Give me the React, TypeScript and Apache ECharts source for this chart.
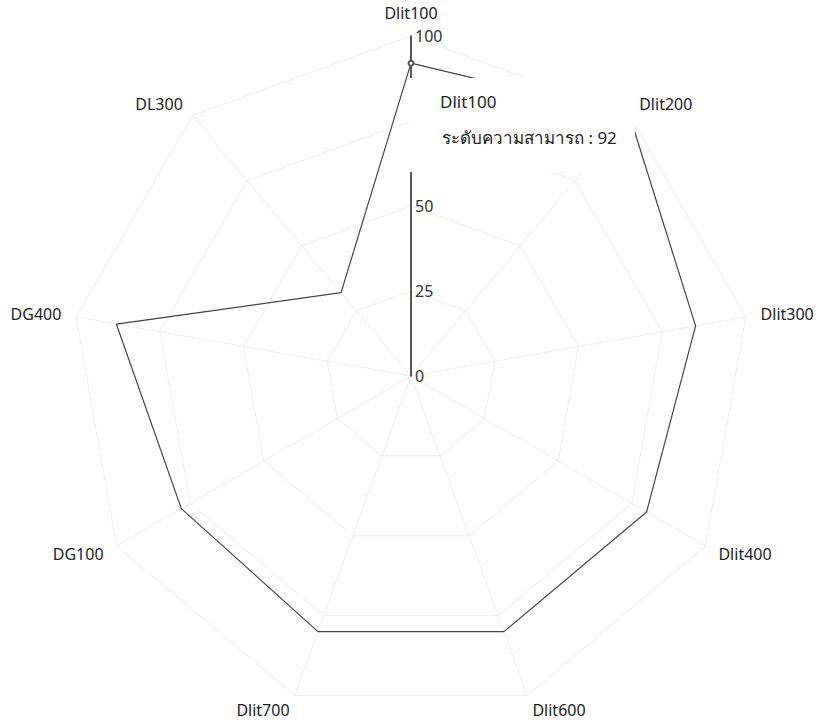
import React, { useEffect, useRef } from "react";
import * as echarts from "echarts";

// Indicators listed clockwise from the top, as in the picture
const indicatorNames = ["Dlit100", "Dlit200", "Dlit300", "Dlit400", "Dlit600", "Dlit700", "DG100", "DG400", "DL300"];
const indicatorMax = 100;
const seriesName = "ระดับความสามารถ";
const seriesValues = [92, 100, 85, 80, 80, 80, 78, 88, 32];
const tooltipTitle = "Dlit100";
const tooltipValue = 92;

// ECharts lays radar indicators counter-clockwise; reorder so they read clockwise
const cwOrder = indicatorNames.map((_, i) => (i === 0 ? 0 : indicatorNames.length - i));

export default function App() {
  const ref = useRef<HTMLDivElement>(null);
  useEffect(() => {
    if (!ref.current) return;
    const chart = echarts.init(ref.current, null, { renderer: "svg" });
    const font = "'Noto Sans', 'DejaVu Sans', sans-serif";
    const center = [411, 376];
    const radius = 340;
    chart.setOption({
      animation: false,
      backgroundColor: "#ffffff",
      textStyle: { fontFamily: font },
      radar: [
        {
          center,
          radius,
          startAngle: 90,
          shape: "polygon",
          splitNumber: 4,
          indicator: cwOrder.map((i) => ({ name: indicatorNames[i], min: 0, max: indicatorMax })),
          axisName: { color: "#222", fontSize: 16, fontFamily: font },
          nameGap: 15,
          axisLine: { lineStyle: { color: "#efefef", width: 1 } },
          splitLine: { lineStyle: { color: "#efefef", width: 1 } },
          splitArea: { show: false },
          axisLabel: { show: false },
          axisTick: { show: false },
        },
        {
          center,
          radius,
          startAngle: 90,
          shape: "polygon",
          splitNumber: 4,
          indicator: [{ name: "", min: 0, max: indicatorMax }],
          axisName: { show: false },
          axisLine: { lineStyle: { color: "#222", width: 1.5 } },
          splitLine: { show: false },
          splitArea: { show: false },
          axisTick: { show: false },
          axisLabel: { show: true, color: "#333", fontSize: 16, fontFamily: font, margin: -4, align: "left" },
        },
      ],
      series: [
        {
          type: "radar",
          radarIndex: 0,
          symbol: "none",
          lineStyle: { color: "#444", width: 1.2 },
          data: [{ name: seriesName, value: cwOrder.map((i) => seriesValues[i]) }],
        },
        {
          type: "radar",
          radarIndex: 1,
          symbol: "emptyCircle",
          symbolSize: 5,
          itemStyle: { color: "#555" },
          lineStyle: { width: 0 },
          data: [{ name: tooltipTitle, value: [tooltipValue] }],
        },
      ],
      graphic: [
        {
          type: "group",
          left: 409,
          top: 78,
          z: 100,
          children: [
            { type: "rect", z: 100, shape: { x: 0, y: 0, width: 226, height: 94 }, style: { fill: "#ffffff" } },
            {
              type: "text",
              z: 101,
              x: 31,
              y: 15,
              style: { text: tooltipTitle, fill: "#222", font: `17px ${font}` },
            },
            {
              type: "text",
              z: 101,
              x: 33,
              y: 51,
              style: { text: `${seriesName} : ${tooltipValue}`, fill: "#222", font: `17px ${font}` },
            },
          ],
        },
      ],
    });
    return () => chart.dispose();
  }, []);
  return <div ref={ref} style={{ position: "fixed", left: 0, top: 0, width: 827, height: 721 }} />;
}
